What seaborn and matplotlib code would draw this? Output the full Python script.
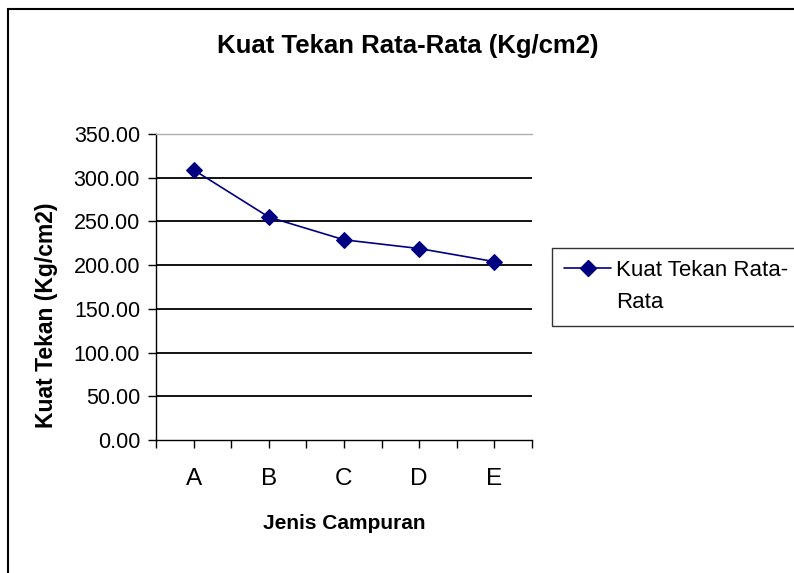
import matplotlib
matplotlib.use("Agg")
import matplotlib.pyplot as plt
from matplotlib.patches import Rectangle
from matplotlib.lines import Line2D
from matplotlib.ticker import FixedLocator, FormatStrFormatter
import seaborn as sns
import pandas as pd
import numpy as np

categories = ["A", "B", "C", "D", "E"]
values = [309.0, 255.0, 229.0, 219.0, 204.0]
series_name = "Kuat Tekan Rata-Rata"
yticks = [0, 50, 100, 150, 200, 250, 300, 350]

sns.set_style("white")
plt.rcParams["font.family"] = ["Liberation Sans", "DejaVu Sans"]
for k in ["text.color", "axes.labelcolor", "xtick.color", "ytick.color"]:
    plt.rcParams[k] = "black"

df = pd.DataFrame({"x": np.arange(len(categories)), "y": values})

W, H = 794, 573
fig = plt.figure(figsize=(W / 100, H / 100), dpi=100)
ax = fig.add_axes([156 / W, 1 - 440 / H, (532 - 156) / W, (440 - 134) / H])

sns.lineplot(data=df, x="x", y="y", ax=ax, color="#000080", marker="D",
             markersize=8, markeredgecolor="#000080", linewidth=1.2,
             legend=False)

ax.set_xlim(-0.5, len(categories) - 0.5)
ax.set_ylim(0, 350)
ax.yaxis.set_major_locator(FixedLocator(yticks))
ax.yaxis.set_major_formatter(FormatStrFormatter("%.2f"))
ax.set_xticks(np.arange(len(categories)))
ax.set_xticklabels(categories)
ax.xaxis.set_minor_locator(FixedLocator(np.arange(-0.5, len(categories), 1.0)))

for yv in yticks[1:-1]:
    ax.axhline(yv, color="black", lw=1.3, zorder=0)

ax.spines["right"].set_visible(False)
ax.spines["top"].set_color("#b0b0b0")
ax.spines["top"].set_linewidth(1.0)
for s in ["left", "bottom"]:
    ax.spines[s].set_color("black")
    ax.spines[s].set_linewidth(1.0)

ax.tick_params(axis="both", which="both", direction="out", length=6,
               width=1, color="black", left=True, bottom=True)
ax.tick_params(axis="y", labelsize=15.5, pad=5.5)
ax.tick_params(axis="x", labelsize=17.5, pad=14)

ax.set_xlabel("Jenis Campuran", fontsize=15, fontweight="bold")
ax.xaxis.set_label_coords(0.5, (440 - 514) / 306)
ax.set_ylabel("Kuat Tekan (Kg/cm2)", fontsize=16.5, fontweight="bold")
ax.yaxis.set_label_coords((58 - 156) / 376, (440 - 315) / 306)

fig.text(407.5 / W, 1 - 53 / H, "Kuat Tekan Rata-Rata (Kg/cm2)", ha="center",
         va="baseline", fontsize=18.5, fontweight="bold")

h1 = Line2D([], [], color="#000080", marker="D", markersize=8, lw=1.2)
h2 = Line2D([], [], linestyle="none")
leg = ax.legend([h1, h2], ["Kuat Tekan Rata-", "Rata"], loc="upper left",
                bbox_to_anchor=(552 / W, 1 - 248 / H),
                bbox_transform=fig.transFigure, fontsize=16, frameon=True,
                fancybox=False, borderaxespad=0, handlelength=2.1,
                handletextpad=0.25, borderpad=0.55, labelspacing=0.5)
leg.get_frame().set_edgecolor("black")
leg.get_frame().set_linewidth(1.0)

fig.patches.append(Rectangle((8 / W, -0.1), 1.2, 1.1 - 9 / H, transform=fig.transFigure,
                             fill=False, edgecolor="black", lw=1.5))

fig.savefig("out.png", dpi=100)
